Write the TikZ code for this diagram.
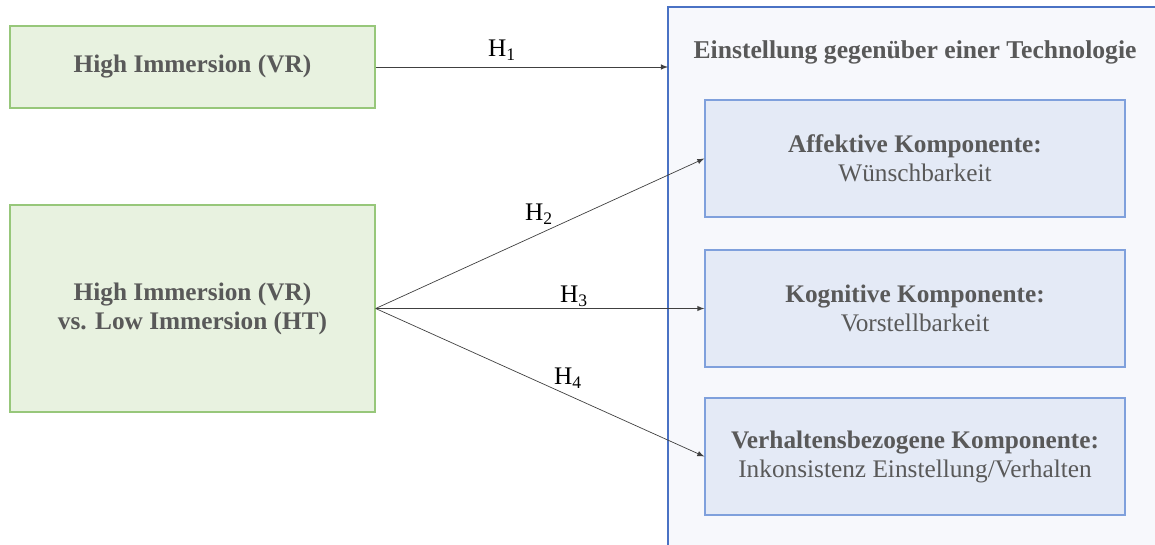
\documentclass[tikz,border=0pt]{standalone}
\usepackage{fontspec}
\setmainfont{Liberation Serif}
\definecolor{greenfill}{HTML}{E8F2E0}
\definecolor{greenline}{HTML}{97C77A}
\definecolor{bluefill}{HTML}{E4EAF6}
\definecolor{blueline}{HTML}{7FA0DC}
\definecolor{outerfill}{HTML}{F7F8FC}
\definecolor{outerline}{HTML}{4A72C4}
\definecolor{txt}{HTML}{595959}
\tikzset{
  ivbox/.style={draw=greenline, fill=greenfill, line width=0.8pt, minimum width=7.3cm, text=txt, font=\bfseries\fontsize{14.4}{16.5}\selectfont, align=center},
  comp/.style={draw=blueline, fill=bluefill, line width=0.8pt, minimum width=8.4cm, minimum height=2.34cm, text=txt, font=\fontsize{14.4}{16.5}\selectfont, align=center},
  hyp/.style={font=\fontsize{14.4}{16.5}\selectfont},
}
\begin{document}
\begin{tikzpicture}[x=0.02cm, y=-0.02cm, >=latex]
  \useasboundingbox (0,0) rectangle (1155,544);
  \begin{scope}
    \clip (0,0) rectangle (1155,544);
    \draw[outerline, fill=outerfill, line width=0.8pt] (668,7) rectangle (1175,564);
  \end{scope}
  \coordinate (outerwest) at (668,67);
  \node[font=\bfseries\fontsize{14.6}{16.5}\selectfont, text=txt] (title) at (915,52) {Einstellung gegenüber einer Technologie};
  % independent variables
  \node[ivbox, minimum height=1.64cm] (vr) at (192.5,67) {High Immersion (VR)};
  \node[ivbox, minimum height=4.14cm] (vrht) at (192.5,308.5) {High Immersion (VR)\\vs. Low Immersion (HT)};
  % components
  \node[comp] (aff) at (915,158.5) {\textbf{Affektive Komponente:}\\Wünschbarkeit};
  \node[comp] (kog) at (915,308.5) {\textbf{Kognitive Komponente:}\\Vorstellbarkeit};
  \node[comp] (verh) at (915,456.5) {\textbf{Verhaltensbezogene Komponente:}\\Inkonsistenz Einstellung/Verhalten};
  % hypotheses
  \draw[->, black!75] (vr.east) -- (outerwest);
  \draw[->, black!75] (vrht.east) -- (aff.west);
  \draw[->, black!75] (vrht.east) -- (kog.west);
  \draw[->, black!75] (vrht.east) -- (verh.west);
  \node[hyp] (h1) at (502,50) {H\textsubscript{1}};
  \node[hyp] (h2) at (539,214) {H\textsubscript{2}};
  \node[hyp] (h3) at (574,296) {H\textsubscript{3}};
  \node[hyp] (h4) at (568,378) {H\textsubscript{4}};
\end{tikzpicture}
\end{document}
